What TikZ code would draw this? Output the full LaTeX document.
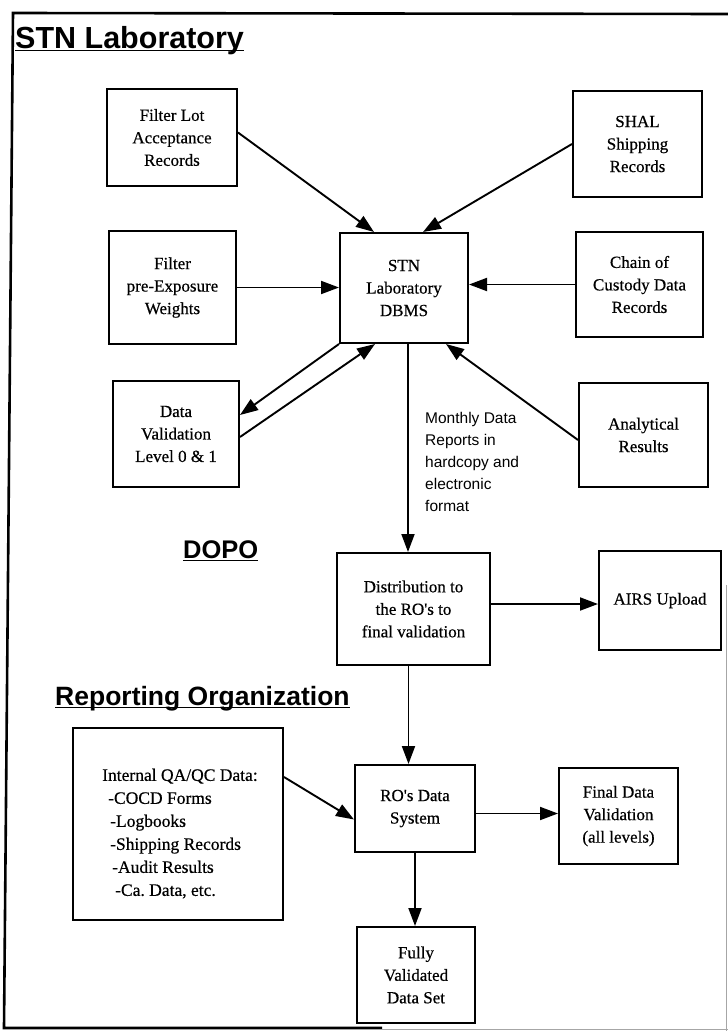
\documentclass[tikz,border=0pt]{standalone}
\usepackage{fontspec}
\setmainfont{Liberation Serif}[FakeBold=0.4]
\newfontfamily\hdrfont{Liberation Sans}
\newfontfamily\bodyfont{Liberation Serif}[AutoFakeBold=0.5]
\usetikzlibrary{arrows.meta,calc}
\begin{document}
\frenchspacing
\begin{tikzpicture}[x=1pt,y=-1pt,
  box/.style={draw,line width=2pt,inner sep=0pt,align=center,
    font=\bodyfont\bfseries\fontsize{17}{22.5}\selectfont},
  arr/.style={line width=1.9pt,-{Triangle[length=18pt,width=13pt]}},
  frameline/.style={line width=2.6pt},
  hdr/.style={inner sep=0pt,anchor=base west},
  uline/.style={line width=1.9pt}]
\useasboundingbox (0,0) rectangle (728,1031);
% frame
\draw[frameline] (728,14) -- (13,13) -- (4,1028) -- (382,1028);
\draw[line width=0.8pt,black!35] (382,1029) -- (728,1029);
\draw[line width=0.8pt,black!35] (726,585) -- (726,1031);
% headings
\node[hdr,font=\hdrfont\bfseries\fontsize{30.5}{34}\selectfont] (title) at (15,48) {STN Laboratory};
\draw[uline] ([yshift=-2.5pt]title.base west) -- ([yshift=-2.5pt]title.base east);
\node[hdr,font=\hdrfont\bfseries\fontsize{25.5}{30}\selectfont] (dopo) at (183,558) {DOPO};
\draw[uline] ([yshift=-2.5pt]dopo.base west) -- ([yshift=-2.5pt]dopo.base east);
\node[hdr,font=\hdrfont\bfseries\fontsize{26.5}{30}\selectfont] (ro-title) at (55,705) {Reporting Organization};
\draw[uline] ([yshift=-2.5pt]ro-title.base west) -- ([yshift=-2.5pt]ro-title.base east);
% boxes
\node[box,minimum width=130pt,minimum height=97pt] (lot) at (172,137.5) {Filter Lot\\Acceptance\\Records};
\node[box,minimum width=129pt,minimum height=106pt] (shal) at (637.5,144) {SHAL\\Shipping\\Records};
\node[box,minimum width=127pt,minimum height=113pt] (pre) at (172.5,287.5) {Filter\\pre-Exposure\\Weights};
\node[box,minimum width=128pt,minimum height=110pt] (dbms) at (404,288) {STN\\Laboratory\\DBMS};
\node[box,minimum width=127pt,minimum height=105pt] (chain) at (639.5,284.5) {Chain of\\Custody Data\\Records};
\node[box,minimum width=126pt,minimum height=106pt] (dv) at (176,434) {Data\\Validation\\Level 0 \& 1};
\node[box,minimum width=129pt,minimum height=104pt] (anal) at (643.5,435) {Analytical\\Results};
\node[box,minimum width=153pt,minimum height=112pt] (dist) at (413.5,609) {Distribution to\\the RO's to\\final validation};
\node[box,minimum width=122pt,minimum height=99pt] (airs) at (660,600.5) {AIRS Upload};
\node[box,minimum width=210pt,minimum height=192pt] (qa) at (178,824) {};
\node[inner sep=0pt,anchor=north west,align=left,font=\bodyfont\bfseries\fontsize{17.5}{23}\selectfont] (qatext) at (102,768.5)
  {Internal QA/QC Data:\\\hspace*{6pt}-COCD Forms\\\hspace*{8pt}-Logbooks\\\hspace*{8pt}-Shipping Records\\\hspace*{10pt}-Audit Results\\\hspace*{13pt}-Ca. Data, etc.};
\node[box,minimum width=120pt,minimum height=87pt] (ro) at (415,808.5) {RO's Data\\System};
\node[box,minimum width=119pt,minimum height=96pt] (final) at (618.5,816) {Final Data\\Validation\\(all levels)};
\node[box,minimum width=118pt,minimum height=96pt] (fully) at (416,975) {Fully\\Validated\\Data Set};
% label
\node[inner sep=0pt,anchor=north west,align=left,font=\hdrfont\fontsize{15.5}{21.8}\selectfont] (monthly) at (425,412.5)
  {Monthly Data\\Reports in\\hardcopy and\\electronic\\format};
% connectors
\draw[arr] ([yshift=5pt]lot.east) -- ([xshift=35pt]dbms.north west);
\draw[arr] (shal.west) -- ([xshift=-46pt]dbms.north east);
\draw[arr] (pre.east) -- (pre.east -| dbms.west);
\draw[arr] (chain.west) -- (chain.west -| dbms.east);
\draw[arr] (dbms.south west) -- ([yshift=19pt]dv.east);
\draw[arr] ([yshift=-3pt]dv.east) -- ([xshift=36pt]dbms.south west);
\draw[arr] ([yshift=-5pt]anal.west) -- ([xshift=-23pt]dbms.south east);
\draw[arr] ([xshift=4pt]dbms.south) -- ([xshift=4pt]dbms.south |- dist.north);
\draw[arr] ([yshift=5pt]dist.east) -- ([yshift=5pt]dist.east -| airs.west);
\draw[arr] ([xshift=-5pt]dist.south) -- ([xshift=-5pt]dist.south |- ro.north);
\draw[arr] ([yshift=47pt]qa.east) -- ([yshift=-11pt]ro.west);
\draw[arr] ([yshift=-5pt]ro.east) -- ([yshift=-5pt]ro.east -| final.west);
\draw[arr] (ro.south) -- (ro.south |- fully.north);
\end{tikzpicture}
\end{document}
